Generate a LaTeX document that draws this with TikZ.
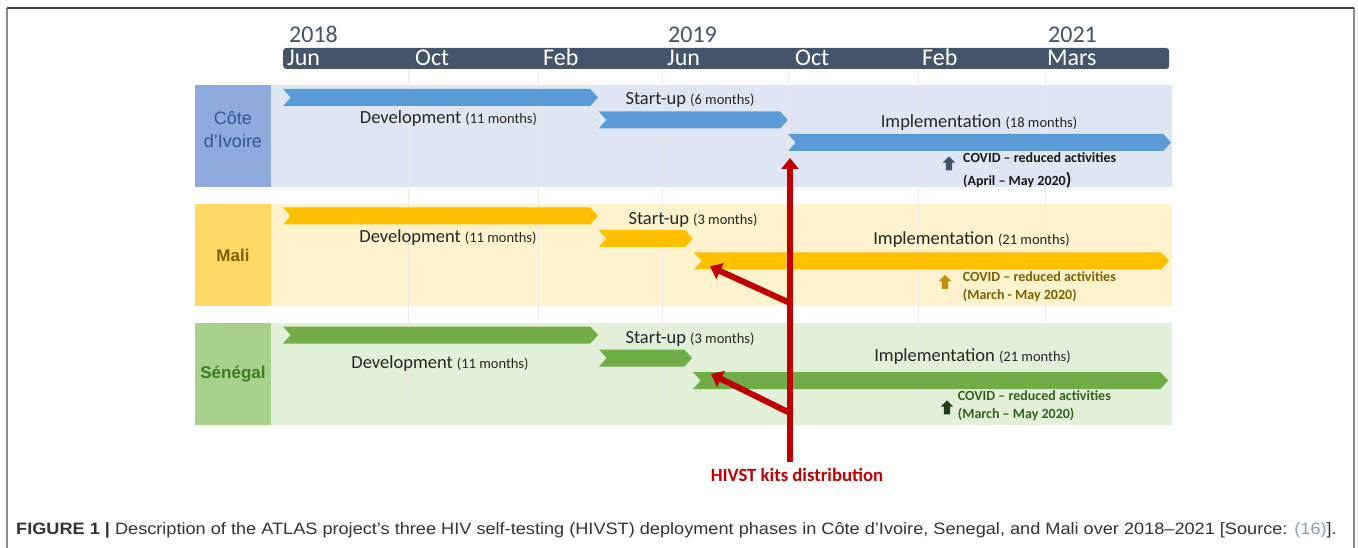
\documentclass[tikz,border=0pt]{standalone}
\usepackage{fontspec}
\setmainfont{Carlito}
\newfontfamily\arialfont{Liberation Sans}
\usepackage{tikz}
\usetikzlibrary{shapes.symbols, shapes.arrows, arrows.meta, calc}

\definecolor{slate}{HTML}{44546A}
\definecolor{hivred}{HTML}{C00000}
\definecolor{ciBar}{HTML}{5B9BD5}
\definecolor{ciBand}{HTML}{DFE6F3}
\definecolor{ciBox}{HTML}{8FAADC}
\definecolor{ciText}{HTML}{2F5597}
\definecolor{maBar}{HTML}{FFC000}
\definecolor{maBand}{HTML}{FFF2CC}
\definecolor{maBox}{HTML}{FFD966}
\definecolor{maText}{HTML}{7F6000}
\definecolor{maMark}{HTML}{BF9000}
\definecolor{seBar}{HTML}{70AD47}
\definecolor{seBand}{HTML}{E2F0D9}
\definecolor{seBox}{HTML}{A9D18E}
\definecolor{seText}{HTML}{3B7D23}
\definecolor{seMark}{HTML}{1E3D14}
\definecolor{capText}{HTML}{333333}
\definecolor{capRef}{HTML}{8AA0B8}

\tikzstyle{timeline} = [rectangle, rounded corners=3pt, minimum width=886pt, minimum height=21pt, inner sep=0pt, fill=slate, anchor=west]
\tikzstyle{month} = [anchor=base west, inner sep=0pt, text=white, font=\fontsize{24}{28}\selectfont]
\tikzstyle{year} = [anchor=base west, inner sep=0pt, text=slate, font=\fontsize{24}{28}\selectfont]
\tikzstyle{country} = [rectangle, minimum width=76pt, minimum height=102pt, inner sep=0pt, align=center]
\tikzstyle{band} = [rectangle, minimum width=901pt, minimum height=102pt, inner sep=0pt, anchor=west]
\tikzstyle{chevron} = [signal, signal from=west, signal to=east, signal pointer angle=96, minimum height=17pt, inner sep=0pt, outer sep=0pt]
\tikzstyle{phase} = [inner sep=0pt, text=black!85, font=\fontsize{18.5}{22}\selectfont]
\tikzstyle{covid} = [anchor=west, inner sep=0pt, align=left, font=\bfseries\fontsize{14}{18}\selectfont]
\tikzstyle{upmark} = [single arrow, shape border rotate=90, minimum height=14pt, minimum width=12pt, single arrow head extend=3pt, inner sep=3pt]
\tikzstyle{redarrow} = [line width=6pt, draw=hivred, -{Triangle[width=17pt,length=11pt]}]
\newcommand{\mo}[1]{{\fontsize{14.5}{18}\selectfont(#1 months)}}

\begin{document}
\begin{tikzpicture}[x=1pt, y=-1pt]
\useasboundingbox (0,0) rectangle (1358,548);
\draw[line width=1.5pt, black!45] (7,548) -- (7,8);
\draw[line width=1.5pt, black!45] (1354,8) -- (1354,548);
\draw[line width=1.5pt, black!75] (7,8) -- (1354,8);

\node[timeline] (axis) at (283,58.5) {};
\foreach \m/\x in {Jun/287, Oct/415, Feb/543, Jun/667, Oct/795, Feb/922, Mars/1047}
    \node[month] (mon\x) at (\x,66) {\m};
\foreach \y/\x in {2018/289, 2019/668, 2021/1048}
    \node[year] (yr\y) at (\x,43) {\y};

\node[band, fill=ciBand] (ciBack) at (271,136) {};
\node[band, fill=maBand] (maBack) at (271,255) {};
\node[band, fill=seBand] (seBack) at (271,374) {};
\node[country, fill=ciBox] (ci) at (233,136) {};
\node[inner sep=0pt, align=center, text=ciText, font=\arialfont\fontsize{18}{23}\selectfont] (ciName) at (233,130) {Côte\\d’Ivoire};
\node[country, fill=maBox, text=maText, font=\arialfont\bfseries\fontsize{17}{22}\selectfont] (ma) at (233,255) {Mali};
\node[country, fill=seBox, text=seText, font=\arialfont\bfseries\fontsize{17}{22}\selectfont] (se) at (233,374) {Sénégal};

\foreach \x in {408, 538, 662, 788, 918, 1045}
    \draw[black!8, line width=0.8pt] (\x,69) -- (\x,400);

% Cote d'Ivoire
\node[chevron, fill=ciBar, minimum width=315pt] (ciDev) at (440.5,97.5) {};
\node[chevron, fill=ciBar, minimum width=189pt] (ciStart) at (693.3,120) {};
\node[chevron, fill=ciBar, minimum width=383pt] (ciImp) at (979.5,142.5) {};
\node[phase] (ciDevTxt) at (448.5,119) {Development \mo{11}};
\node[phase] (ciStartTxt) at (690,100) {Start-up \mo{6}};
\node[phase] (ciImpTxt) at (979,122.7) {Implementation \mo{18}};
\node[upmark, fill=slate] (ciMark) at (949,165) {};
\node[covid, text=black!90] (ciCovid) at (963,170.5) {COVID – reduced activities\\[5pt](April – May 2020{\fontsize{18}{18}\selectfont)}};

% Mali
\node[chevron, fill=maBar, minimum width=315pt] (maDev) at (440.5,216) {};
\node[chevron, fill=maBar, minimum width=94pt] (maStart) at (645.6,238.5) {};
\node[chevron, fill=maBar, minimum width=475pt] (maImp) at (931.5,261) {};
\node[phase] (maDevTxt) at (448,238) {Development \mo{11}};
\node[phase] (maStartTxt) at (693,220) {Start-up \mo{3}};
\node[phase] (maImpTxt) at (971.5,240) {Implementation \mo{21}};
\node[upmark, fill=maMark] (maMark) at (945,283.5) {};
\node[covid, text=maText] (maCovid) at (962.7,286.5) {COVID – reduced activities\\(March - May 2020)};

% Senegal
\node[chevron, fill=seBar, minimum width=315pt] (seDev) at (440.5,335) {};
\node[chevron, fill=seBar, minimum width=93pt] (seStart) at (645.5,358) {};
\node[chevron, fill=seBar, minimum width=475pt] (seImp) at (930.5,380.5) {};
\node[phase] (seDevTxt) at (440,364) {Development \mo{11}};
\node[phase] (seStartTxt) at (690,339) {Start-up \mo{3}};
\node[phase] (seImpTxt) at (972.5,356.7) {Implementation \mo{21}};
\node[upmark, fill=seMark] (seMark) at (947,409) {};
\node[covid, text=seText!80!black] (seCovid) at (957.7,406) {COVID – reduced activities\\(March – May 2020)};

% kits
\node[inner sep=0pt, text=hivred, font=\bfseries\fontsize{18.7}{22}\selectfont] (hivst) at (797,475) {HIVST kits distribution};
\coordinate (kitsFoot) at (790,462);
\coordinate (jMa) at (790,303);
\coordinate (jSe) at (790,413);
\draw[redarrow] (kitsFoot) -- ($(ciImp.south west)+(2,7)$);
\draw[redarrow] (jMa) -- ($(maImp.south west)+(16,-3)$);
\draw[redarrow] (jSe) -- ($(seImp.south west)+(18,-15)$);

\node[anchor=west, inner sep=0pt, text=capText, font=\arialfont\fontsize{16.5}{20}\selectfont] (caption) at (16,530)
    {\scalebox{1.1}[1]{\textbf{FIGURE 1 |} Description of the ATLAS project’s three HIV self-testing (HIVST) deployment phases in Côte d’Ivoire, Senegal, and Mali over 2018–2021 [Source: \textcolor{capRef}{(16)}].}};
\end{tikzpicture}
\end{document}
